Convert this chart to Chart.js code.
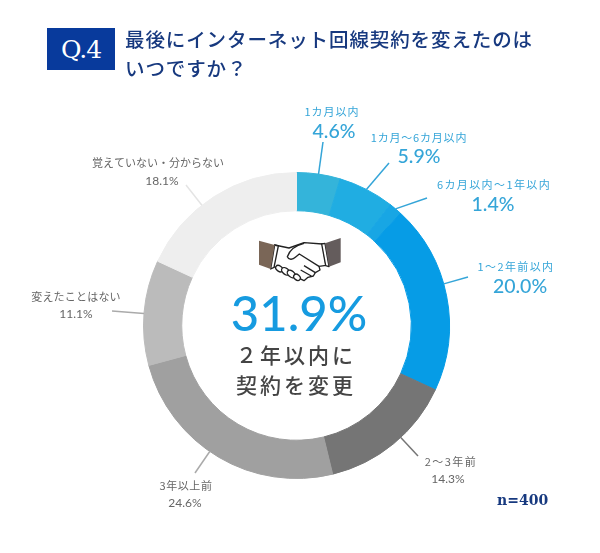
<!DOCTYPE html>
<html lang="ja">
<head>
<meta charset="utf-8">
<style>
  html, body { margin: 0; padding: 0; background: #fff; }
  #wrap { position: relative; width: 600px; height: 553px; overflow: hidden; font-family: "Noto Sans CJK JP", sans-serif; }
  #wrap canvas { position: absolute; left: 0; top: 0; }
  .qbox { position: absolute; left: 47px; top: 28px; width: 68px; height: 42px; background: #083a9c; color: #fff; font: 25px/44px "DejaVu Serif", serif; text-align: center; letter-spacing: -1px; }
  .title { position: absolute; left: 125px; top: 24px; color: #17397f; font-size: 19.5px; line-height: 29px; font-weight: 500; letter-spacing: 0.9px; white-space: nowrap; }
  .hand { position: absolute; left: 254px; top: 234px; }
  .big { position: absolute; left: 199px; width: 200px; top: 282px; text-align: center; color: #169be0; font: 500 49px/60px "Lato", sans-serif; }
  .sub { position: absolute; left: 196px; width: 200px; top: 339px; text-align: center; color: #444; font-size: 21px; line-height: 30px; font-weight: 500; letter-spacing: 3px; }
  .n { position: absolute; left: 497px; top: 490px; color: #17397f; font: bold 14px/20px "DejaVu Serif", serif; }
</style>
</head>
<body>
<div id="wrap">
  <canvas id="grafico" width="600" height="553"></canvas>
  <div class="qbox">Q.4</div>
  <div class="title">最後にインターネット回線契約を変えたのは<br>いつですか？</div>
  <svg class="hand" width="92" height="52" viewBox="0 0 276 156">
    <g fill="#fff" stroke="#222" stroke-width="4" stroke-linejoin="round">
      <path d="M62 33 L105 42 L150 26 L205 30 L216 94 L195 97 L198 108 L184 116 L178 126 L162 130 L150 140 L125 128 L60 98Z"/>
      <ellipse cx="76" cy="104" rx="12" ry="8" transform="rotate(35 76 104)"/>
      <ellipse cx="95" cy="112" rx="14" ry="9" transform="rotate(40 95 112)"/>
      <ellipse cx="112" cy="120" rx="14" ry="9" transform="rotate(40 112 120)"/>
      <ellipse cx="129" cy="130" rx="11" ry="8" transform="rotate(40 129 130)"/>
      <path d="M150 28 C125 34 108 45 100 68 C104 78 116 78 124 70 L136 60 L195 97" fill="none"/>
      <path d="M150 95 L184 116 M140 108 L172 126" fill="none"/>
      <path d="M62 33 L73 36 L60 100 L50 105Z"/>
      <path d="M203 30 L213 28 L225 98 L215 95Z"/>
    </g>
    <path d="M15 20 L62 33 L50 105 L15 92Z" fill="#7a6657"/>
    <path d="M260 12 L213 28 L225 98 L260 85Z" fill="#645c5c"/>
  </svg>
  <div class="big">31.9%</div>
  <div class="sub">２年以内に<br>契約を変更</div>
  <div class="n">n=400</div>
</div>
<script src="https://cdn.jsdelivr.net/npm/chart.js@4"></script>
<script>
const categories = ['1カ月以内', '1カ月〜6カ月以内', '6カ月以内〜1年以内', '1〜2年前以内', '2〜3年前', '3年以上前', '変えたことはない', '覚えていない・分からない'];
const values = [4.6, 5.9, 1.4, 20.0, 14.3, 24.6, 11.1, 18.1];
const colors = ['#34b4da', '#20ade2', '#18a6e4', '#069ce6', '#757575', '#a0a0a0', '#bbbbbb', '#eeeeee'];

// ラベルの位置 (x,y = 名前, vx,vy = 数値, ex,ey = 引き出し線の端, ls = 字間, mid = 線をスライス中央から出す)
const labelPos = [
    { x: 332, y: 112, vx: 334, vy: 132, ex: 323, ey: 142, ls: 1, mid: true },
    { x: 419, y: 138, vx: 419, vy: 157, ex: 389, ey: 163, ls: 0.8, mid: true },
    { x: 494, y: 185, vx: 493, vy: 205, ex: 427, ey: 198, ls: 1.4, mid: true },
    { x: 516, y: 267, vx: 520, vy: 287, ex: 468, ey: 277, ls: 1.4 },
    { x: 451, y: 462, vx: 448, vy: 479, ex: 418, ey: 456, ls: 1.5 },
    { x: 186, y: 486, vx: 185, vy: 503, ex: 195, ey: 473, ls: 0.6 },
    { x: 76, y: 297, vx: 76, vy: 314, ex: 112, ey: 311, ls: 0.2 },
    { x: 158, y: 163, vx: 162, vy: 181, ex: 186, ey: 185, ls: 0 }
];

const labelsPlugin = {
    id: 'sliceLabels',
    afterDraw(chart) {
        const ctx = chart.ctx;
        const arcs = chart.getDatasetMeta(0).data;
        arcs.forEach((arc, i) => {
            const p = labelPos[i];
            // 線の始点: スライス中央、または円の中心に向かう方向
            const angle = p.mid ? (arc.startAngle + arc.endAngle) / 2 : Math.atan2(p.ey - arc.y, p.ex - arc.x);
            const sx = arc.x + Math.cos(angle) * arc.outerRadius;
            const sy = arc.y + Math.sin(angle) * arc.outerRadius;
            const blue = i < 4;

            ctx.save();
            ctx.strokeStyle = blue ? '#35a5d8' : (i === 7 ? '#e4e4e4' : '#aaa');
            if (i === 4) ctx.strokeStyle = '#757575';
            ctx.lineWidth = 1.5;
            ctx.beginPath();
            ctx.moveTo(sx, sy);
            ctx.lineTo(p.ex, p.ey);
            ctx.stroke();

            ctx.textAlign = 'center';
            ctx.textBaseline = 'middle';
            ctx.fillStyle = blue ? '#35a5d8' : '#666';
            ctx.letterSpacing = p.ls + 'px';
            ctx.font = '11px "Noto Sans CJK JP"';
            ctx.fillText(categories[i], p.x, p.y);
            ctx.letterSpacing = '0px';
            ctx.font = blue ? '500 19.5px "Lato"' : '12px "Lato"';
            ctx.fillText(values[i].toFixed(1) + '%', p.vx, p.vy);
            ctx.restore();
        });
    }
};

new Chart(document.getElementById('grafico'), {
    type: 'doughnut',
    data: {
        labels: categories,
        datasets: [{ data: values, backgroundColor: colors, borderColor: colors, borderWidth: 1 }]
    },
    options: {
        responsive: false,
        animation: false,
        cutout: '75%',
        layout: { padding: { left: 143, right: 150, top: 172, bottom: 74 } },
        plugins: { legend: { display: false }, tooltip: { enabled: false } }
    },
    plugins: [labelsPlugin]
});
</script>
</body>
</html>
